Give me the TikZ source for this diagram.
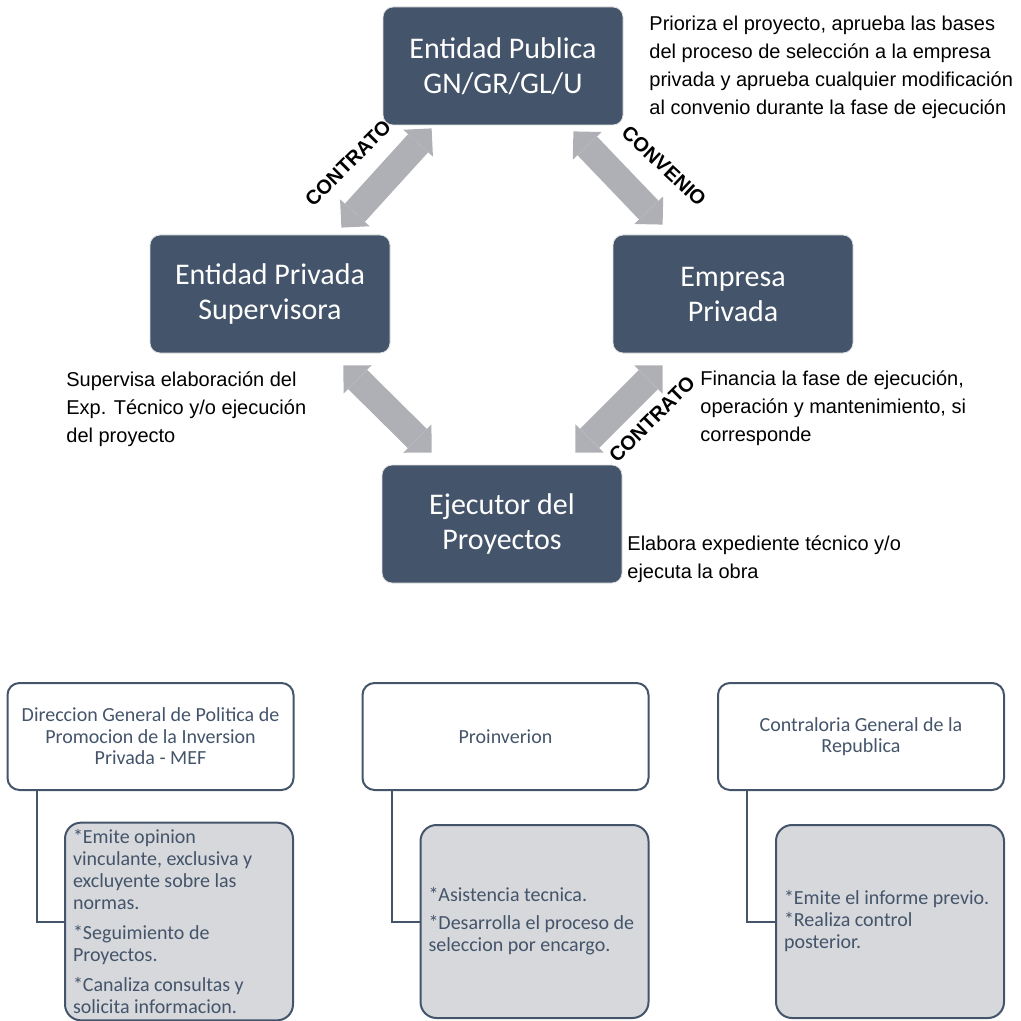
\documentclass[tikz,border=0pt]{standalone}
\usepackage{fontspec}
\setmainfont{Liberation Sans}
\newfontfamily\calibri{Carlito}
\usetikzlibrary{calc,arrows.meta}
\definecolor{slate}{HTML}{44546A}
\definecolor{arrowgray}{HTML}{AEB0B5}
\definecolor{notegray}{HTML}{D6D8DB}

\begin{document}
\begin{tikzpicture}[x=0.5pt,y=-0.5pt,
    actor/.style={draw=black!12,fill=slate,rounded corners=5pt,minimum width=120pt,minimum height=59pt,inner sep=0pt,align=center,text=white,font=\calibri\fontsize{15}{17.5}\selectfont},
    link/.style={line width=13.5pt,arrowgray,{Triangle[width=20pt,length=10pt,line width=0pt]}-{Triangle[width=20pt,length=10pt,line width=0pt]}},
    tag/.style={font=\bfseries\fontsize{10}{11}\selectfont,inner sep=1pt},
    note/.style={anchor=north west,inner sep=0pt,align=left,font=\fontsize{10}{14}\selectfont},
    head/.style={draw=slate,line width=1pt,rounded corners=6pt,minimum width=143pt,minimum height=53.5pt,inner sep=2pt,align=center,text=slate,font=\calibri\fontsize{10}{10.75}\selectfont},
    duty/.style={draw=slate,line width=1pt,rounded corners=8pt,fill=notegray,minimum height=96.5pt,text width=106pt,inner xsep=4pt,align=flush left,text=slate,font=\calibri\fontsize{10}{11}\selectfont}
]
    \useasboundingbox (0,0) rectangle (1021,1021);

    \node[actor] (pub) at (503,66) {Entidad Publica\\GN/GR/GL/U};
    \node[actor] (sup) at (270,294) {Entidad Privada\\Supervisora};
    \node[actor] (emp) at (733,294) {Empresa\\Privada};
    \node[actor] (ejec) at (502,524) {Ejecutor del\\Proyectos};

    \draw[link] ($(sup.north east)+(-49,-7)$) -- ($(pub.south west)+(49,3)$);
    \draw[link] ($(pub.south east)+(-50,6)$) -- ($(emp.north west)+(50,-10)$);
    \draw[link] ($(sup.south east)+(-47,12)$) -- ($(ejec.north west)+(50,-12)$);
    \draw[link] ($(emp.south west)+(50,12)$) -- ($(ejec.north east)+(-47,-12)$);

    \node[tag,rotate=45] (contrato1) at (348,163) {CONTRATO};
    \node[tag,rotate=-43] (convenio) at (664,166) {CONVENIO};
    \node[tag,rotate=45] (contrato2) at (652,419) {CONTRATO};

    \node[note] (prio) at (649,16) {Prioriza el proyecto, aprueba las bases\\del proceso de selección a la empresa\\privada y aprueba cualquier modificación\\al convenio durante la fase de ejecución};
    \node[note] (supn) at (66,371) {Supervisa elaboración del\\Exp. Técnico y/o ejecución\\del proyecto};
    \node[note] (finn) at (700,370) {Financia la fase de ejecución,\\operación y mantenimiento, si\\corresponde};
    \node[note] (elab) at (627,535) {Elabora expediente técnico y/o\\ejecuta la obra};

    \node[head] (dir) at (150.5,736.5) {Direccion General de Politica de\\Promocion de la Inversion\\Privada - MEF};
    \node[head] (pro) at (505.5,736.5) {Proinverion};
    \node[head] (cgr) at (861,736.5) {Contraloria General de la\\Republica};

    \node[duty] (dirf) at (179,921.5) {*Emite opinion\\vinculante, exclusiva y\\excluyente sobre las\\normas.\\[4pt]*Seguimiento de\\Proyectos.\\[4pt]*Canaliza consultas y\\solicita informacion.};
    \node[duty] (prof) at (534.5,921.5) {*Asistencia tecnica.\\[3pt]*Desarrolla el proceso de\\seleccion por encargo.};
    \node[duty] (cgrf) at (890,921.5) {*Emite el informe previo.\\{*}Realiza control\\posterior.};

    \draw[slate,line width=1pt] ($(dir.south west)+(30,0)$) |- (dirf.west);
    \draw[slate,line width=1pt] ($(pro.south west)+(30,0)$) |- (prof.west);
    \draw[slate,line width=1pt] ($(cgr.south west)+(30,0)$) |- (cgrf.west);
\end{tikzpicture}
\end{document}
